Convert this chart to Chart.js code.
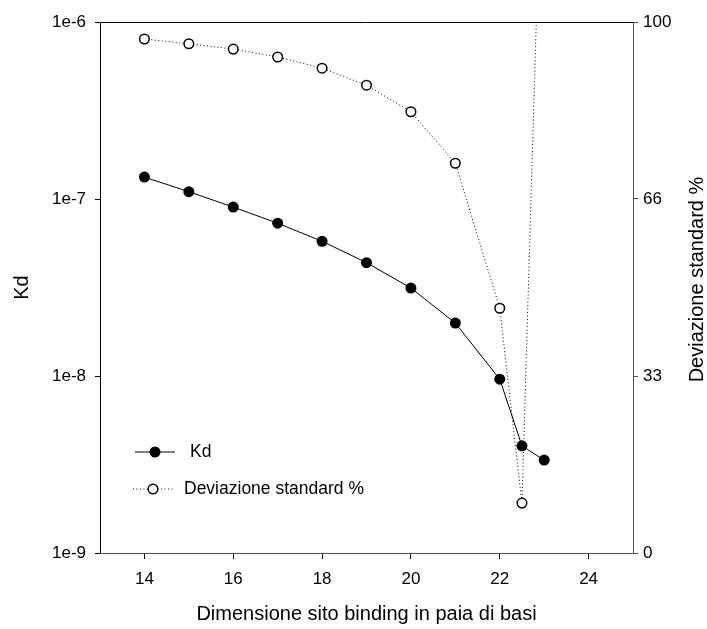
<!DOCTYPE html>
<html lang="it">
<head>
    <meta charset="UTF-8">
    <title>Kd e deviazione standard</title>
    <style>
        html, body { margin: 0; padding: 0; background: #fff; }
        #wrap { width: 707px; height: 629px; }
    </style>
</head>
<body>
    <div id="wrap"><canvas id="kdChart" width="707" height="629"></canvas></div>

    <script src="https://cdn.jsdelivr.net/npm/chart.js"></script>
    <script>
        // data
        const sizes = [14, 15, 16, 17, 18, 19, 20, 21, 22, 22.5, 23];
        const kdValues = [1.33e-7, 1.10e-7, 9.0e-8, 7.3e-8, 5.77e-8, 4.37e-8, 3.14e-8, 1.99e-8, 9.6e-9, 4.03e-9, 3.35e-9];
        const devValues = [96.8, 95.9, 94.9, 93.4, 91.3, 88.1, 83.1, 73.4, 46.1, 9.4, 150];

        const xTicks = [14, 16, 18, 20, 22, 24];
        const kdTicks = [1e-9, 1e-8, 1e-7, 1e-6];
        const kdTickLabels = ['1e-9', '1e-8', '1e-7', '1e-6'];
        const devTicks = [0, 100 / 3, 200 / 3, 100];
        const devTickLabels = ['0', '33', '66', '100'];

        const FONT = "'Liberation Sans', Arial, sans-serif";

        const toPoints = (xs, ys) => xs.map((x, i) => ({ x: x, y: ys[i] }));

        // legend inside the plot + top frame line + right axis title
        const extras = {
            id: 'extras',
            afterDraw(chart) {
                const ctx = chart.ctx;
                const a = chart.chartArea;
                ctx.save();
                // top frame line
                ctx.strokeStyle = '#000';
                ctx.lineWidth = 1;
                ctx.beginPath();
                ctx.moveTo(a.left, a.top + 0.5);
                ctx.lineTo(a.right, a.top + 0.5);
                ctx.stroke();

                // legend
                const lx = a.left + 35;
                const y1 = a.top + 430;
                const y2 = a.top + 467;
                ctx.beginPath();
                ctx.moveTo(lx, y1);
                ctx.lineTo(lx + 40, y1);
                ctx.stroke();
                ctx.fillStyle = '#000';
                ctx.beginPath();
                ctx.arc(lx + 20, y1, 5.5, 0, Math.PI * 2);
                ctx.fill();

                ctx.setLineDash([1, 2.5]);
                ctx.beginPath();
                ctx.moveTo(lx - 2, y2);
                ctx.lineTo(lx + 40, y2);
                ctx.stroke();
                ctx.setLineDash([]);
                ctx.fillStyle = '#fff';
                ctx.lineWidth = 1.5;
                ctx.beginPath();
                ctx.arc(lx + 18, y2, 4.8, 0, Math.PI * 2);
                ctx.fill();
                ctx.stroke();

                ctx.fillStyle = '#000';
                ctx.font = '17.5px ' + FONT;
                ctx.textBaseline = 'middle';
                ctx.textAlign = 'left';
                ctx.fillText('Kd', lx + 55, y1);
                ctx.fillText('Deviazione standard %', lx + 49, y2);

                // right axis title, reading bottom to top
                ctx.font = '20px ' + FONT;
                ctx.textAlign = 'center';
                ctx.translate(697, (a.top + a.bottom) / 2 - 8);
                ctx.rotate(-Math.PI / 2);
                ctx.fillText('Deviazione standard %', 0, 0);
                ctx.restore();
            }
        };

        const ctx = document.getElementById('kdChart').getContext('2d');
        new Chart(ctx, {
            type: 'line',
            data: {
                datasets: [
                    {
                        label: 'Kd',
                        data: toPoints(sizes, kdValues),
                        yAxisID: 'yKd',
                        borderColor: '#000',
                        borderWidth: 1,
                        backgroundColor: '#000',
                        pointRadius: 5.5,
                        pointBorderWidth: 0,
                        pointBackgroundColor: '#000',
                        tension: 0,
                        order: 1
                    },
                    {
                        label: 'Deviazione standard %',
                        data: toPoints(sizes, devValues),
                        yAxisID: 'yDev',
                        borderColor: '#000',
                        borderWidth: 1,
                        borderDash: [1, 2.5],
                        pointRadius: 4.8,
                        pointBorderWidth: 1.5,
                        pointBorderColor: '#000',
                        pointBackgroundColor: '#fff',
                        tension: 0,
                        order: 2
                    }
                ]
            },
            options: {
                responsive: false,
                animation: false,
                layout: { padding: { top: 22, left: 0, right: 0, bottom: 0 } },
                plugins: {
                    legend: { display: false },
                    tooltip: { enabled: false }
                },
                scales: {
                    x: {
                        type: 'linear',
                        min: 13,
                        max: 25,
                        afterBuildTicks: s => { s.ticks = xTicks.map(v => ({ value: v })); },
                        afterFit: s => { s.height = 76; },
                        grid: { drawOnChartArea: false, drawTicks: true, tickLength: 6, color: '#000' },
                        border: { display: true, color: '#555', width: 1 },
                        ticks: { color: '#000', font: { family: FONT, size: 17 }, padding: 10, maxRotation: 0 },
                        title: {
                            display: true,
                            text: 'Dimensione sito binding in paia di basi',
                            color: '#000',
                            font: { family: FONT, size: 20 },
                            padding: { top: 0, bottom: 3 }
                        }
                    },
                    yKd: {
                        type: 'logarithmic',
                        position: 'left',
                        min: 1e-9,
                        max: 1e-6,
                        afterBuildTicks: s => { s.ticks = kdTicks.map(v => ({ value: v })); },
                        afterFit: s => { s.width = 100; },
                        grid: { drawOnChartArea: false, drawTicks: true, tickLength: 5, color: '#000' },
                        border: { display: true, color: '#000', width: 1 },
                        ticks: {
                            color: '#000',
                            font: { family: FONT, size: 17 },
                            padding: 9,
                            callback: (v) => kdTickLabels[kdTicks.indexOf(v)] ?? ''
                        },
                        title: {
                            display: true,
                            text: 'Kd',
                            color: '#000',
                            font: { family: FONT, size: 20 },
                            padding: { top: 10, bottom: 0 }
                        }
                    },
                    yDev: {
                        type: 'linear',
                        position: 'right',
                        min: 0,
                        max: 100,
                        afterBuildTicks: s => { s.ticks = devTicks.map(v => ({ value: v })); },
                        afterFit: s => { s.width = 74; },
                        grid: { drawOnChartArea: false, drawTicks: true, tickLength: 5, color: '#555' },
                        border: { display: true, color: '#555', width: 1 },
                        ticks: {
                            color: '#000',
                            font: { family: FONT, size: 17 },
                            padding: 5,
                            callback: (v, i) => devTickLabels[i]
                        }
                    }
                }
            },
            plugins: [extras]
        });
    </script>
</body>
</html>
